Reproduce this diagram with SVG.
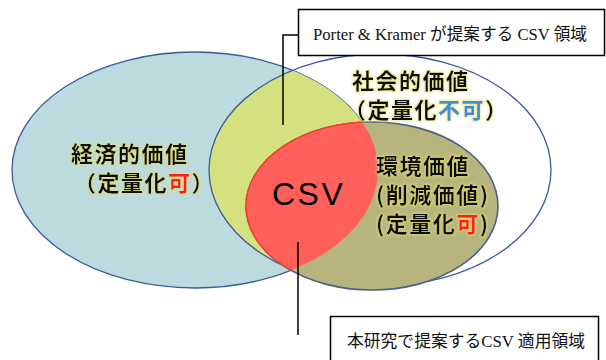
<svg xmlns="http://www.w3.org/2000/svg" width="606" height="360" viewBox="0 0 606 360">
<style>
.jp{font-family:"Noto Sans CJK JP","Noto Sans",sans-serif;font-weight:bold;font-size:22px;letter-spacing:1.5px;fill:#111}
.csv{font-family:"Liberation Sans",Arial,sans-serif;font-size:32px;letter-spacing:2.5px;fill:#000}
.lbl{font-family:"Liberation Serif","Noto Sans CJK JP",serif;font-size:17px;fill:#111}
.box{fill:#fff;stroke:#000;stroke-width:1.5}
.lead{fill:none;stroke:#000;stroke-width:1.5}
.red{fill:#ff1a1a}
.blu{fill:#3d8ed6}
</style>
<defs>
<clipPath id="clipBlue"><ellipse cx="195" cy="170" rx="183" ry="118"/></clipPath>
<filter id="glow" x="-10%" y="-20%" width="120%" height="140%">
<feMorphology in="SourceAlpha" operator="dilate" radius="1" result="d"/>
<feGaussianBlur in="d" stdDeviation="1.2" result="b"/>
<feFlood flood-color="#e4df6a" flood-opacity="0.7"/>
<feComposite in2="b" operator="in" result="g"/>
<feMerge><feMergeNode in="g"/><feMergeNode in="SourceGraphic"/></feMerge>
</filter>
</defs>
<rect width="606" height="360" fill="#fff"/>

<g id="social-fill">
<ellipse cx="380" cy="170" rx="171" ry="116" fill="#fff"/>
</g>
<g id="economic">
<ellipse cx="195" cy="170" rx="183" ry="118" fill="#bddbdf" stroke="#3c5a9a" stroke-width="1.3"/>
</g>
<g id="overlap-social-economic">
<ellipse cx="380" cy="170" rx="171" ry="116" fill="#d5e07f" clip-path="url(#clipBlue)"/>
</g>
<g id="social">
<ellipse cx="380" cy="170" rx="171" ry="116" fill="none" stroke="#3c5a9a" stroke-width="1.3"/>
</g>
<g id="environment">
<ellipse cx="372" cy="206" rx="126" ry="84" fill="#b8b47e" stroke="#4a5f8a" stroke-width="1.6"/>
</g>
<g id="csv">
<ellipse cx="372" cy="206" rx="126" ry="84" fill="#ff605c" stroke="#ff3b1f" stroke-width="1.3" clip-path="url(#clipBlue)"/>
<text class="csv" x="272" y="205">CSV</text>
</g>

<g id="labels" filter="url(#glow)">
<text class="jp" x="71" y="162">経済的価値</text>
<text class="jp" x="74" y="191">（定量化<tspan class="red">可</tspan>）</text>
<text class="jp" x="352" y="89">社会的価値</text>
<text class="jp" x="344" y="118">（定量化<tspan class="blu">不可</tspan>）</text>
<text class="jp" x="376" y="174">環境価値</text>
<text class="jp" x="376" y="203">(削減価値)</text>
<text class="jp" x="376" y="232">(定量化<tspan class="red">可</tspan>)</text>
</g>

<g id="connectors">
<path class="lead" d="M298,35 H283 V125"/>
<path class="lead" d="M298,242 V335"/>
</g>

<g id="callout-porter">
<rect class="box" x="298.5" y="9.5" width="306" height="46"/>
<text class="lbl" x="313" y="40" textLength="274" lengthAdjust="spacingAndGlyphs">Porter &amp; Kramer が提案する CSV 領域</text>
</g>
<g id="callout-study">
<rect class="box" x="330.5" y="316.5" width="268" height="60"/>
<text class="lbl" x="347" y="347" textLength="238" lengthAdjust="spacingAndGlyphs">本研究で提案するCSV 適用領域</text>
</g>
</svg>
